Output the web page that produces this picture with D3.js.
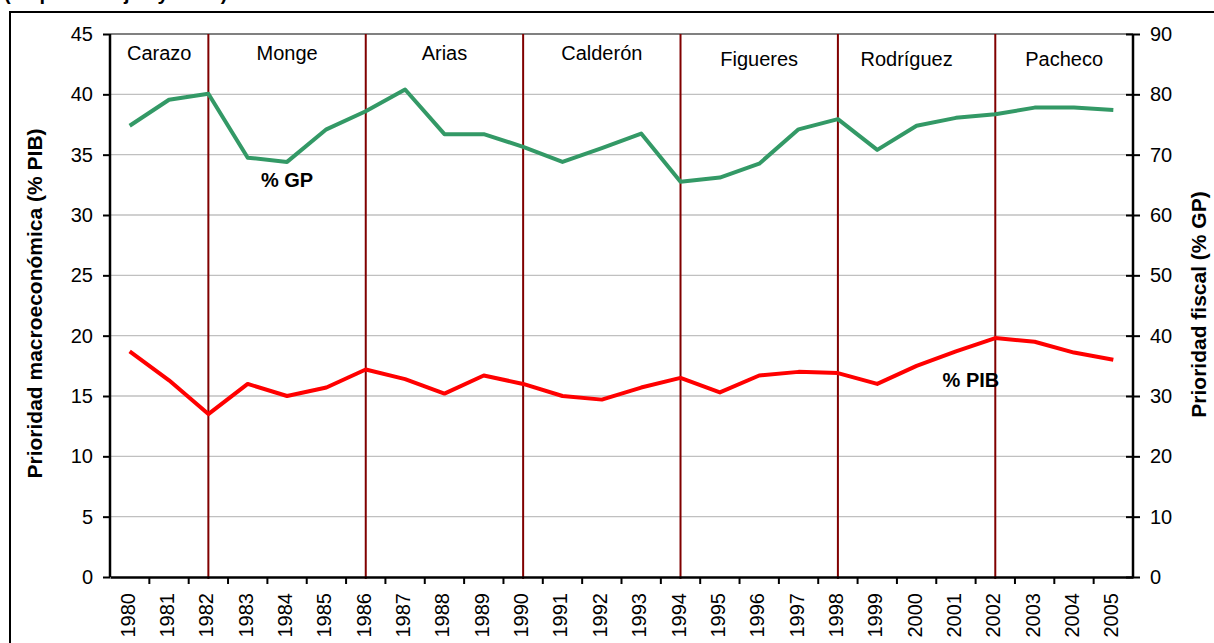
<!DOCTYPE html>
<html>
<head>
<meta charset="utf-8">
<script src="https://cdn.jsdelivr.net/npm/d3@7"></script>
<style>
  body { margin: 0; background: #fff; }
  svg { display: block; font-family: "Liberation Sans", Arial, sans-serif; }
</style>
</head>
<body>
<div id="wrapper"></div>
<script>
// years and series
const years = d3.range(1980, 2006).map(String)
// % PIB, left axis
const pib = [18.7, 16.3, 13.5, 16.0, 15.0, 15.7, 17.2, 16.4, 15.2, 16.7, 16.0, 15.0, 14.7,
  15.7, 16.5, 15.3, 16.7, 17.0, 16.9, 16.0, 17.5, 18.7, 19.8, 19.5, 18.6, 18.0]
// % GP, right axis
const gp = [74.8, 79.1, 80.1, 69.5, 68.8, 74.2, 77.2, 80.8, 73.4, 73.4, 71.3, 68.8, 71.1,
  73.5, 65.5, 66.2, 68.5, 74.2, 75.9, 70.8, 74.8, 76.1, 76.7, 77.8, 77.8, 77.4]
// governments and the year each new one starts
const presidents = ["Carazo", "Monge", "Arias", "Calderón", "Figueres", "Rodríguez", "Pacheco"]
const changeYears = ["1982", "1986", "1990", "1994", "1998", "2002"]
const leftTicks = d3.range(0, 46, 5)
const rightTicks = d3.range(0, 91, 10)

const width = 1214, height = 643
const margin = {top: 34, right: 81, bottom: 66, left: 110}

const svg = d3.select("#wrapper").append("svg")
  .attr("width", width)
  .attr("height", height)

// outer frame, runs off the right and bottom edge
svg.append("rect")
  .attr("x", 10).attr("y", 12)
  .attr("width", 1240).attr("height", 660)
  .attr("fill", "none").attr("stroke", "#000").attr("stroke-width", 2)

// caption above the frame, cut off by the top edge like in the source
svg.append("text")
  .attr("x", 4).attr("y", 0)
  .style("font-size", "20px").style("font-weight", "bold")
  .text("(en porcentajes y años)")

const x = d3.scaleBand()
  .domain(years)
  .range([margin.left, width - margin.right])

const yL = d3.scaleLinear().domain([0, 45]).range([height - margin.bottom, margin.top])
const yR = d3.scaleLinear().domain([0, 90]).range([height - margin.bottom, margin.top])

const cx = d => x(d) + x.bandwidth() / 2

// gridlines
svg.append("g")
  .selectAll("line").data(leftTicks.slice(1))
  .enter().append("line")
  .attr("x1", x.range()[0]).attr("x2", x.range()[1])
  .attr("y1", d => yL(d)).attr("y2", d => yL(d))
  .attr("stroke", d => d == 45 ? "#808080" : "#c0c0c0")
  .attr("stroke-width", d => d == 45 ? 2 : 1.3)

// government change lines
svg.append("g")
  .selectAll("line").data(changeYears)
  .enter().append("line")
  .attr("x1", cx).attr("x2", cx)
  .attr("y1", yL(45)).attr("y2", yL(0) + 2)
  .attr("stroke", "#800000").attr("stroke-width", 2)

// president names
const bounds = [x.range()[0], ...changeYears.map(cx), x.range()[1]]
svg.append("g")
  .selectAll("text").data(presidents)
  .enter().append("text")
  .attr("x", (d, i) => (bounds[i] + bounds[i + 1]) / 2 + (d == "Rodríguez" ? -10 : 0))
  .attr("y", (d, i) => i < 4 ? 60 : 66)
  .attr("text-anchor", "middle")
  .style("font-size", "20px")
  .text(d => d)

// axes
const axisL = svg.append("g")
  .attr("transform", `translate(${margin.left},0)`)
  .call(d3.axisLeft(yL).tickValues(leftTicks).tickSize(7).tickPadding(10))
const axisR = svg.append("g")
  .attr("transform", `translate(${width - margin.right},0)`)
  .call(d3.axisRight(yR).tickValues(rightTicks).tickSize(7).tickPadding(10))
axisR.selectAll(".tick line").attr("x1", -7)

const axisB = svg.append("g")
  .attr("transform", `translate(0,${yL(0)})`)
  .call(d3.axisBottom(x).tickSize(0).tickFormat(""))
// ticks sit on the category boundaries
axisB.selectAll(".boundary").data(years.slice(1))
  .enter().append("line")
  .attr("class", "boundary")
  .attr("x1", d => x(d)).attr("x2", d => x(d))
  .attr("y1", 0).attr("y2", 7)
  .attr("stroke", "#000").attr("stroke-width", 2)
axisB.selectAll(".yr").data(years)
  .enter().append("text")
  .attr("class", "yr")
  .attr("transform", d => `translate(${cx(d) - 2},16) rotate(-90)`)
  .attr("text-anchor", "end")
  .attr("dy", "0.35em")
  .attr("fill", "#000")
  .style("font-size", "20px")
  .text(d => d)

for (const a of [axisL, axisR, axisB]) {
  a.select(".domain").attr("stroke", "#000").attr("stroke-width", 2.5)
  a.selectAll(".tick line").attr("stroke", "#000").attr("stroke-width", 2)
  a.selectAll(".tick text").attr("fill", "#000").style("font-size", "20px")
  a.style("font-family", "Liberation Sans, Arial, sans-serif")
}
axisR.select(".domain").attr("d", `M0,${yR(90)}V${yR(0)}`)
axisL.select(".domain").attr("d", `M0,${yL(45)}V${yL(0)}`)

// series
const lineL = d3.line().x((d, i) => cx(years[i])).y(d => yL(d))
const lineR = d3.line().x((d, i) => cx(years[i])).y(d => yR(d))

svg.append("path")
  .datum(gp)
  .attr("d", lineR)
  .attr("fill", "none").attr("stroke", "#339966").attr("stroke-width", 4)
  .attr("stroke-linejoin", "round")

svg.append("path")
  .datum(pib)
  .attr("d", lineL)
  .attr("fill", "none").attr("stroke", "#ff0000").attr("stroke-width", 4)
  .attr("stroke-linejoin", "round")

// series labels
svg.append("text")
  .attr("x", cx("1984")).attr("y", yL(32.9))
  .attr("dy", "0.35em").attr("text-anchor", "middle")
  .style("font-size", "20px").style("font-weight", "bold")
  .text("% GP")
svg.append("text")
  .attr("x", cx("2001") + 15).attr("y", yL(16.3))
  .attr("dy", "0.35em").attr("text-anchor", "middle")
  .style("font-size", "20px").style("font-weight", "bold")
  .text("% PIB")

// axis titles
svg.append("text")
  .attr("transform", `translate(35,${(yL(0) + yL(45)) / 2 - 2}) rotate(-90)`)
  .attr("text-anchor", "middle").attr("dy", "0.35em")
  .style("font-size", "21px").style("font-weight", "bold")
  .text("Prioridad macroeconómica (% PIB)")
svg.append("text")
  .attr("transform", `translate(1199,${(yL(0) + yL(45)) / 2 - 1}) rotate(-90)`)
  .attr("text-anchor", "middle").attr("dy", "0.35em")
  .style("font-size", "21px").style("font-weight", "bold")
  .text("Prioridad fiscal (% GP)")
</script>
</body>
</html>
